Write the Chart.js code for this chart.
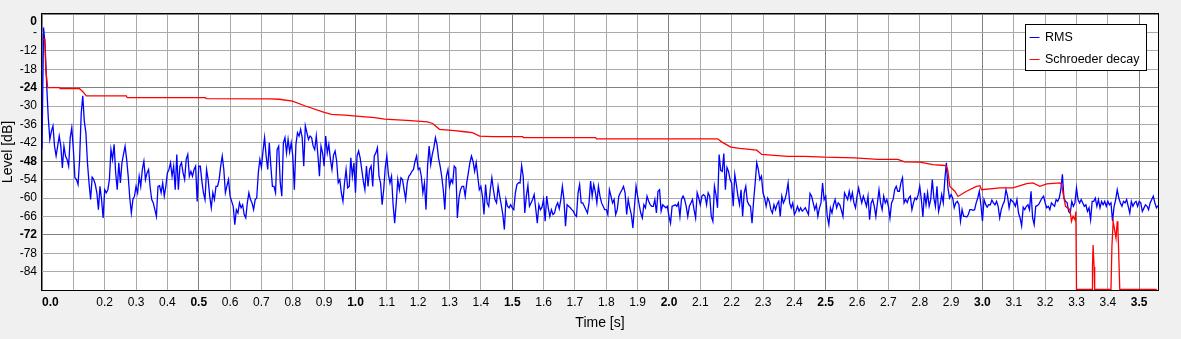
<!DOCTYPE html>
<html>
<head>
<meta charset="utf-8">
<script src="https://cdn.jsdelivr.net/npm/chart.js@4.4.1/dist/chart.umd.min.js"></script>
<style>
  html, body { margin: 0; padding: 0; background: #f0f0f0; }
  canvas { display: block; }
</style>
</head>
<body>
<canvas id="chart" width="1181" height="339"></canvas>
<script>
// tick labels
const timeTicks = [0.0, 0.1, 0.2, 0.3, 0.4, 0.5, 0.6, 0.7, 0.8, 0.9, 1.0, 1.1, 1.2, 1.3, 1.4, 1.5, 1.6, 1.7, 1.8, 1.9,
  2.0, 2.1, 2.2, 2.3, 2.4, 2.5, 2.6, 2.7, 2.8, 2.9, 3.0, 3.1, 3.2, 3.3, 3.4, 3.5];
const levelTicks = [0, -6, -12, -18, -24, -30, -36, -42, -48, -54, -60, -66, -72, -78, -84];

// RMS level, one value every 5 ms from t = 0
const rmsStep = 0.005;
const rmsLevels = [
  -44.2, -4.4, -10.4, -23.4, -33.8, -40.9, -38.2, -36.5, -43.1, -46.3,
  -43.1, -39.8, -43.1, -50.2, -43.1, -46.3, -47.4, -49.6, -40.3, -37.1,
  -44, -53.4, -54, -55.6, -47.4, -32.7, -26.7, -35, -38.7, -48.5,
  -55.1, -60.5, -53.2, -54, -55.6, -58.3, -63.8, -56.2, -60.5, -66.5,
  -57.3, -58.3, -57.3, -54, -44.2, -47.4, -42.5, -51.8, -57.3, -48.5,
  -55.1, -48.5, -45.8, -43.1, -47.4, -52.9, -60, -64.9, -60.5, -59.4,
  -56.2, -58.3, -52.9, -56.2, -50.7, -48, -54, -51.8, -50.7, -56.5,
  -60.5, -61.6, -63.8, -66, -56.2, -56, -58.3, -55.1, -59.4, -56.2,
  -51.8, -50.7, -48.5, -52.9, -49.6, -57.3, -45.8, -57.3, -49.6, -48.5,
  -51.8, -54, -47.4, -45.8, -52.9, -51.3, -52.9, -50.7, -49.6, -61.1,
  -49.6, -49.6, -54.5, -58.3, -60.5, -50.7, -54, -59.4, -63.2, -58.3,
  -60.5, -56.2, -56.2, -54, -49.6, -46.3, -50.7, -58.3, -56, -54,
  -59.4, -61.1, -62.7, -68.7, -63.8, -64.9, -61.6, -63.2, -62.2, -65.4,
  -66.5, -61.6, -58.3, -60.5, -61.6, -63.8, -60.5, -60, -51.8, -47.4,
  -50, -44.7, -40.3, -46.3, -50.7, -42, -49.6, -56.2, -56.2, -58.3,
  -44.2, -43.1, -55, -59.4, -42, -40.3, -45.3, -40.9, -45, -42,
  -46.3, -57.3, -42.5, -38.7, -39.8, -37.6, -40.3, -49.6, -36.5, -38.7,
  -40.9, -39.8, -40.3, -43.1, -44.2, -39.8, -45.8, -52.9, -43.1, -45.3,
  -49.6, -39.8, -45.3, -42.5, -47.4, -50.7, -46, -44.7, -48, -55,
  -54, -58.3, -61.1, -55.1, -50.7, -56.7, -56.2, -46.9, -52.9, -48.5,
  -58.3, -46.3, -44.7, -47, -50.7, -54.5, -57.3, -49.6, -56.2, -50.7,
  -49.6, -56.2, -46.3, -45.3, -43.6, -52.9, -55.1, -62.2, -57.3, -50,
  -46.3, -52.3, -55.1, -52.9, -62.2, -68.2, -61.6, -54, -57.3, -53.4,
  -54, -57.3, -60.5, -55.1, -52.9, -52.3, -51.3, -50.7, -48, -46.3,
  -50.7, -50.2, -52.9, -58.3, -55.1, -63.8, -49.6, -43.1, -49.1, -45.8,
  -43.6, -40.3, -42.5, -47, -49.6, -52.9, -57.3, -63.8, -52.9, -50.7,
  -56.2, -54, -55.1, -49.6, -50.2, -66.5, -60, -57.3, -56.2, -56.2,
  -59.4, -55, -51.8, -48.5, -46.3, -48, -51.3, -48.5, -52.9, -57.3,
  -56.2, -59.4, -65.4, -55.6, -61.6, -62.7, -57.3, -53.4, -57.3, -60.5,
  -61.6, -56.2, -59.4, -62.2, -65.4, -70.3, -60.5, -62.7, -63.2, -62.2,
  -63.2, -63.8, -58.3, -55.6, -55, -55.1, -49.4, -52.9, -64.9, -59.4,
  -55.9, -62.7, -61.6, -60.5, -58.9, -63.5, -68.2, -62.2, -63.8, -63,
  -60.5, -67.6, -59.4, -63.2, -66, -63.8, -65.4, -64.9, -62.7, -61.6,
  -63.5, -60.5, -56.2, -60.5, -69.2, -62.2, -62.7, -63.2, -63.8, -64.3,
  -65.4, -66, -58.3, -55.6, -61.6, -61.6, -62.7, -63.8, -64.9, -61.6,
  -54.5, -59.4, -55.6, -58, -61.6, -56.2, -59.4, -61.6, -62.7, -63.8,
  -63.8, -65.4, -57.3, -59.4, -61.6, -60.5, -65.4, -63.8, -59.4, -58.3,
  -57.3, -56.2, -58.3, -65.4, -60.5, -63.2, -65.4, -69.8, -62.7, -56.2,
  -59.4, -62.2, -64.9, -66.5, -62.2, -63.2, -59.4, -61, -62.2, -62.7,
  -62.7, -60.5, -64.9, -57.8, -57.3, -64.3, -62.2, -62.7, -63.2, -62.7,
  -66, -68.2, -62.7, -62.5, -62.2, -62.7, -61.6, -66, -60.5, -59.4,
  -60.5, -62.7, -66, -62.7, -61.6, -60.5, -63.8, -66.5, -58.3, -60,
  -62.2, -59.4, -58.9, -59.4, -62.2, -58.3, -59.4, -66, -67.6, -56.2,
  -59, -63.2, -45.8, -51, -51.3, -45.5, -57.3, -50, -51.3, -54,
  -55.1, -62.7, -52.3, -55.6, -59.4, -62.2, -57.3, -66, -58.3, -56.2,
  -61.1, -62.2, -62.7, -68.2, -61, -55.1, -48.5, -50.7, -54, -52.9,
  -58.3, -60, -62.7, -60, -61.1, -63.8, -64.9, -62.2, -63.8, -62,
  -61.1, -66, -59.4, -61.6, -60.5, -58.3, -55.1, -61.6, -63.2, -61.6,
  -65.4, -64.3, -62.7, -64.3, -63.2, -64.3, -63.8, -63.2, -64.3, -65.4,
  -58.5, -59.4, -61.6, -63.8, -62.2, -66, -63.2, -61.6, -55.1, -60.5,
  -59.4, -66, -68.7, -63.2, -64.9, -62.2, -60.5, -63.2, -61.6, -62.2,
  -64, -66, -58.3, -59.4, -60.5, -57.8, -60.5, -58.3, -61.6, -63.2,
  -59.4, -56.7, -59.4, -61.6, -59.4, -61, -62.7, -59.4, -67.1, -61.6,
  -60.5, -62.7, -66, -61.6, -57.3, -61.6, -63.8, -59.4, -61.6, -60.5,
  -62.7, -66.5, -61.6, -60.5, -57.3, -56.2, -57.8, -57.8, -55, -53.4,
  -61.6, -60.5, -61.5, -60, -59.4, -63.8, -61.6, -60, -60.5, -58.9,
  -56.2, -60.5, -66.2, -58.3, -62.2, -58.3, -62.7, -60.5, -54, -60,
  -62.7, -56.2, -64.4, -62.2, -58.9, -61.6, -54, -48.5, -56.7, -60,
  -58.9, -60, -63.2, -61.6, -61.1, -62.2, -67.6, -63.8, -66, -66,
  -66.2, -65.4, -63.8, -63.8, -64, -63.8, -61.6, -60, -57.8, -62.2,
  -67.6, -60.5, -62, -63, -62.2, -62.2, -60.7, -61.6, -62.2, -61.1,
  -62.7, -66.5, -63.8, -62.2, -61.1, -57.3, -59.4, -63.2, -60.5, -61,
  -61.6, -62.7, -60.5, -64.9, -66.5, -69.1, -63, -63.8, -62.7, -62.2,
  -63.8, -57.8, -66.5, -68.7, -62.7, -62.5, -62, -61, -60, -59.4,
  -61.6, -63.2, -62.7, -63.8, -61.6, -62.2, -62.7, -60.5, -61.1, -60,
  -57.3, -52.3, -60, -61.1, -61.5, -64.4, -65, -61.1, -62.7, -61.6,
  -56.7, -60.5, -61.6, -60.5, -61.6, -62.7, -62.2, -64.4, -63.2, -67.1,
  -61.1, -61.1, -60, -62.7, -60.5, -63.2, -61.1, -62.2, -61.1, -62.7,
  -61.1, -62.2, -61.6, -67.6, -62.7, -60.5, -57.3, -60, -61.6, -62.7,
  -61.1, -61.6, -60.5, -62.7, -64.9, -61.1, -62.7, -61.6, -61.1, -62.7,
  -61.1, -61.6, -64.4, -63.3, -62.2, -62.7, -63.8, -61.6, -60.5, -59.4,
  -61.6, -63.2, -62.5
];

// Schroeder decay curve
const decayTimes = [
  0.000, 0.009, 0.012, 0.018, 0.055, 0.058, 0.119, 0.132, 0.141, 0.269,
  0.272, 0.521, 0.524, 0.726, 0.757, 0.799, 0.840, 0.898, 0.923, 0.965,
  1.061, 1.093, 1.176, 1.230, 1.246, 1.268, 1.316, 1.348, 1.373, 1.396,
  1.437, 1.533, 1.536, 1.766, 1.769, 2.155, 2.168, 2.197, 2.226, 2.264,
  2.280, 2.296, 2.379, 2.433, 2.497, 2.593, 2.666, 2.730, 2.752, 2.800,
  2.842, 2.880, 2.885, 2.889, 2.896, 2.912, 2.922, 2.949, 2.981, 2.992,
  2.997, 3.056, 3.097, 3.141, 3.161, 3.183, 3.205, 3.247, 3.253, 3.257,
  3.265, 3.279, 3.284, 3.289, 3.295, 3.298, 3.300, 3.350, 3.351, 3.353,
  3.356, 3.358, 3.410, 3.413, 3.417, 3.426, 3.430, 3.432, 3.435, 3.438,
  3.556
];
const decayLevels = [
  -8.2, -8.2, -18.0, -24.0, -24.0, -24.3, -24.3, -25.5, -26.7, -26.7,
  -27.3, -27.3, -27.6, -27.7, -27.8, -28.4, -30.0, -32.0, -32.7, -33.0,
  -33.8, -34.3, -34.8, -35.2, -35.7, -37.6, -38.0, -38.4, -38.7, -39.8,
  -40.0, -40.0, -40.3, -40.3, -40.7, -40.7, -41.7, -43.4, -43.8, -44.2,
  -44.4, -45.8, -46.4, -46.4, -46.7, -46.9, -47.4, -47.4, -48.2, -48.3,
  -49.1, -49.4, -49.7, -50.7, -56.2, -57.8, -59.5, -57.8, -56.2, -56.0,
  -57.3, -56.7, -56.7, -55.3, -55.1, -56.2, -55.4, -55.1, -55.6, -58.3,
  -62.7, -63.8, -67.6, -66.0, -67.1, -64.4, -89.8, -89.8, -82.4, -75.3,
  -82.4, -89.8, -89.8, -75.8, -67.6, -73.1, -67.6, -69.3, -79.1, -89.8,
  -89.8
];

const rmsPoints = rmsLevels.map((y, i) => ({ x: i * rmsStep, y: y }));
const decayPoints = decayTimes.map((t, i) => ({ x: t, y: decayLevels[i] }));

const isMajorTime = v => Math.abs(v * 2 - Math.round(v * 2)) < 1e-6;
const isMajorLevel = v => Math.abs(v / 24 - Math.round(v / 24)) < 1e-6;
const tickValue = ctx => (ctx && ctx.tick ? ctx.tick.value : 0.05);

// grey background, white plot, black frame and the boxed legend
const framePlugin = {
  id: 'frame',
  beforeDraw(chart) {
    const { ctx, chartArea: a } = chart;
    ctx.save();
    ctx.fillStyle = '#f0f0f0';
    ctx.fillRect(0, 0, chart.width, chart.height);
    ctx.fillStyle = '#ffffff';
    ctx.fillRect(a.left, a.top, a.right - a.left, a.bottom - a.top);
    ctx.restore();
  },
  afterDraw(chart) {
    const { ctx, chartArea: a } = chart;
    ctx.save();
    ctx.strokeStyle = '#000000';
    ctx.lineWidth = 1;
    ctx.strokeRect(Math.round(a.left) - 0.5, Math.round(a.top) - 0.5,
      Math.round(a.right - a.left) + 1, Math.round(a.bottom - a.top) + 1);

    // legend box
    const bx = Math.round(a.right) - 132.5, by = Math.round(a.top) + 10.5, bw = 121, bh = 46;
    ctx.fillStyle = '#ffffff';
    ctx.fillRect(bx, by, bw, bh);
    ctx.strokeRect(bx, by, bw, bh);
    ctx.font = '12.5px "Liberation Sans", Arial, sans-serif';
    ctx.textBaseline = 'middle';
    const items = [chart.data.datasets[0], chart.data.datasets[1]];
    items.forEach((ds, i) => {
      const y = Math.round(by + 12 + i * 22) + 0.5;
      ctx.strokeStyle = ds.borderColor;
      ctx.lineWidth = 1;
      ctx.beginPath();
      ctx.moveTo(bx + 4, y);
      ctx.lineTo(bx + 14, y);
      ctx.stroke();
      ctx.fillStyle = '#000000';
      ctx.fillText(ds.label, bx + 19.5, y);
    });
    ctx.restore();
  }
};

const fontFamily = '"Liberation Sans", Arial, sans-serif';

new Chart(document.getElementById('chart'), {
  type: 'line',
  data: {
    datasets: [
      {
        label: 'RMS',
        data: rmsPoints,
        borderColor: '#0000ff',
        borderWidth: 1.3,
        pointRadius: 0,
        tension: 0,
        order: 2
      },
      {
        label: 'Schroeder decay',
        data: decayPoints,
        borderColor: '#ff0000',
        borderWidth: 1.3,
        pointRadius: 0,
        tension: 0,
        order: 1
      }
    ]
  },
  options: {
    responsive: false,
    animation: false,
    events: [],
    layout: { padding: { top: 14, right: 23, left: 0, bottom: 0 } },
    plugins: {
      legend: { display: false },
      tooltip: { enabled: false }
    },
    scales: {
      x: {
        type: 'linear',
        min: 0,
        max: 3.56,
        afterBuildTicks: scale => { scale.ticks = timeTicks.map(v => ({ value: v })); },
        afterFit: scale => { scale.height = 49; },
        border: { display: false },
        grid: {
          drawTicks: false,
          lineWidth: 1,
          color: ctx => isMajorTime(tickValue(ctx)) ? '#808080' : '#aaaaaa'
        },
        ticks: {
          autoSkip: false,
          maxRotation: 0,
          minRotation: 0,
          padding: 5,
          color: '#000000',
          font: ctx => ({ family: fontFamily, size: 12, weight: isMajorTime(tickValue(ctx)) ? 'bold' : 'normal' }),
          callback: value => {
            if (Math.abs(value) < 1e-6) return '     0.0';
            if (Math.abs(value - 0.1) < 1e-6) return '';
            return value.toFixed(1);
          }
        },
        title: {
          display: true,
          text: 'Time [s]',
          color: '#000000',
          font: { family: fontFamily, size: 14 },
          padding: { top: 0, bottom: 7 }
        }
      },
      y: {
        type: 'linear',
        min: -90,
        max: 0,
        afterBuildTicks: scale => { scale.ticks = levelTicks.map(v => ({ value: v })); },
        afterFit: scale => { scale.width = 42; },
        border: { display: false },
        grid: {
          drawTicks: false,
          lineWidth: 1,
          color: ctx => isMajorLevel(tickValue(ctx)) ? '#808080' : '#aaaaaa'
        },
        ticks: {
          autoSkip: false,
          padding: 5,
          color: '#000000',
          font: ctx => ({ family: fontFamily, size: 12, weight: isMajorLevel(tickValue(ctx)) ? 'bold' : 'normal' }),
          callback: value => {
            if (value === 0) return ['', '0'];
            if (value === -6) return '-';
            return String(value);
          }
        },
        title: {
          display: true,
          text: 'Level [dB]',
          color: '#000000',
          font: { family: fontFamily, size: 14 },
          padding: { top: 0, bottom: 0 }
        }
      }
    }
  },
  plugins: [framePlugin]
});
</script>
</body>
</html>
